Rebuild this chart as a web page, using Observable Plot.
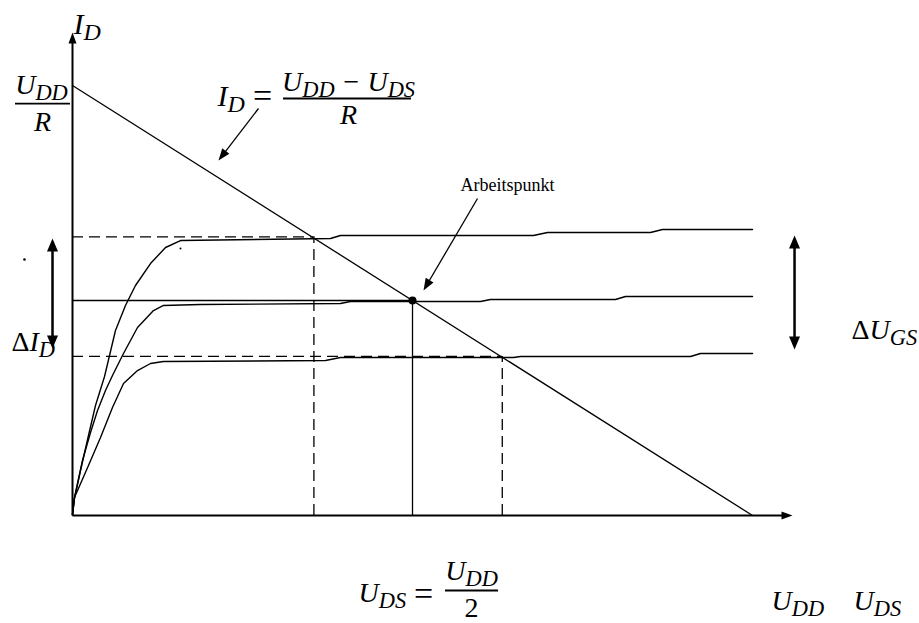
<!DOCTYPE html>
<html><head><meta charset="utf-8">
<script src="https://cdn.jsdelivr.net/npm/d3@7"></script>
<script src="https://cdn.jsdelivr.net/npm/@observablehq/plot@0.6"></script>
<style>html,body{margin:0;padding:0;background:#fff;} svg{display:block}</style>
</head><body><div id="chart"></div>
<script>
// ---- data (U_DS in units where U_DD = 10, I_D in units where U_DD/R = 10) ----
const curveTopU = [0, 0.029, 0.118, 0.235, 0.338, 0.471, 0.632, 0.779, 0.926, 1.147, 1.368, 1.588, 3.794, 3.941, 6.779, 6.985, 8.5, 8.676, 10];
const curveTopI = [0.02, 0.395, 1.047, 1.86, 2.558, 3.233, 4.302, 4.884, 5.349, 5.86, 6.233, 6.395, 6.442, 6.512, 6.512, 6.581, 6.581, 6.651, 6.651];
const curveMidU = [0, 0.029, 0.147, 0.265, 0.368, 0.485, 0.588, 0.75, 0.956, 1.191, 1.338, 1.882, 3.941, 4.088, 6.0, 6.147, 7.985, 8.132, 10];
const curveMidI = [0.02, 0.419, 1.279, 1.93, 2.442, 2.907, 3.256, 3.767, 4.372, 4.767, 4.884, 4.907, 4.93, 4.977, 4.977, 5.023, 5.023, 5.093, 5.093];
const curveLowU = [0, 0.029, 0.235, 0.412, 0.588, 0.75, 0.956, 1.147, 1.338, 3.721, 3.941, 6.485, 6.588, 9.088, 9.235, 10];
const curveLowI = [0.02, 0.419, 1.163, 1.814, 2.512, 3.07, 3.372, 3.535, 3.581, 3.605, 3.674, 3.674, 3.698, 3.698, 3.767, 3.767];
const loadU = [0, 10];
const loadI = [10, 0];
const workU = [5];
const workI = [5];
const dashHighU = [3.55], dashHighI = [6.48];
const dashLowU = [6.32], dashLowI = [3.70];
const axisMaxU = 10.588, axisMaxI = 11.233;

// ---- layout ----
const W = 919, H = 623, mL = 72, mR = 127, mT = 32, mB = 108;
const kx = (W - mL - mR) / axisMaxU, ky = (H - mT - mB) / axisMaxI;
const serif = "Liberation Serif, Times New Roman, serif";

const pts = (U, I) => U.map((u, i) => ({u, i: I[i]}));

function head(theta, L, Wd) {
  const c = Math.cos(theta), s = Math.sin(theta);
  return {draw(ctx) {
    const bx = -L * c, by = -L * s, px = -s * Wd / 2, py = c * Wd / 2;
    ctx.moveTo(0, 0); ctx.lineTo(bx + px, by + py); ctx.lineTo(bx - px, by - py); ctx.closePath();
  }};
}
function arrow(x1, y1, x2, y2, {L = 12, Wd = 9, sw = 1.3, both = false} = {}) {
  const dxp = (x2 - x1) * kx, dyp = -(y2 - y1) * ky;
  const th = Math.atan2(dyp, dxp);
  const len = Math.hypot(dxp, dyp), ux = dxp / len, uy = dyp / len;
  const cut = L * 0.6;
  const ex = x2 - ux * cut / kx, ey = y2 + uy * cut / ky;
  const sx = both ? x1 + ux * cut / kx : x1, sy = both ? y1 - uy * cut / ky : y1;
  const m = [
    Plot.link([0], {x1: [sx], y1: [sy], x2: [ex], y2: [ey], stroke: "black", strokeWidth: sw}),
    Plot.dot([0], {x: [x2], y: [y2], symbol: head(th, L, Wd), fill: "black", stroke: "none", r: 5})
  ];
  if (both) m.push(Plot.dot([0], {x: [x1], y: [y1], symbol: head(th + Math.PI, L, Wd), fill: "black", stroke: "none", r: 5}));
  return m;
}
function label(t, x, y, o = {}) {
  return Plot.text([t], {x: [x], y: [y], text: d => d, fontFamily: serif, fontStyle: "italic", fontSize: 28,
    lineAnchor: "bottom", textAnchor: "start", fill: "black", ...o});
}
function bar(x1, x2, y) {
  return Plot.ruleY([y], {x1: [x1], x2: [x2], y: [y], stroke: "black", strokeWidth: 1.8});
}
const line = (U, I) => Plot.line(pts(U, I), {x: "u", y: "i", stroke: "black", strokeWidth: 1.4});

const chart = Plot.plot({
  width: W, height: H, marginLeft: mL, marginRight: mR, marginTop: mT, marginBottom: mB,
  x: {domain: [0, axisMaxU], axis: null},
  y: {domain: [0, axisMaxI], axis: null},
  style: {background: "white", overflow: "visible"},
  marks: [
    line(curveTopU, curveTopI),
    line(curveMidU, curveMidI),
    line(curveLowU, curveLowI),
    Plot.line(pts(loadU, loadI), {x: "u", y: "i", stroke: "black", strokeWidth: 1.3}),
    // dashed guides
    Plot.ruleY(dashHighI, {x1: 0, x2: dashHighU, stroke: "black", strokeWidth: 1.3, strokeDasharray: "11,6"}),
    Plot.ruleX(dashHighU, {y1: 0, y2: dashHighI, stroke: "black", strokeWidth: 1.3, strokeDasharray: "11,6"}),
    Plot.ruleY(dashLowI, {x1: 0, x2: dashLowU, stroke: "black", strokeWidth: 1.3, strokeDasharray: "11,6"}),
    Plot.ruleX(dashLowU, {y1: 0, y2: dashLowI, stroke: "black", strokeWidth: 1.3, strokeDasharray: "11,6"}),
    // operating point guides
    Plot.ruleY(workI, {x1: 0, x2: workU, stroke: "black", strokeWidth: 1.3}),
    Plot.ruleX(workU, {y1: 0, y2: workI, stroke: "black", strokeWidth: 1.3}),
    // axes
    ...arrow(0, 0, 0, axisMaxI, {L: 11, Wd: 8, sw: 2}),
    ...arrow(0, 0, axisMaxU, 0, {L: 11, Wd: 8, sw: 2}),
    // annotation arrows
    ...arrow(2.735, 9.465, 2.147, 8.256, {L: 12, Wd: 9}),
    ...arrow(5.956, 7.372, 5.162, 5.233, {L: 12, Wd: 9}),
    ...arrow(-0.294, 3.884, -0.294, 6.442, {L: 13, Wd: 11, sw: 2.5, both: true}),
    ...arrow(10.618, 3.86, 10.618, 6.512, {L: 13, Wd: 11, sw: 2.5, both: true}),
    // operating point and stray dots
    Plot.dot(pts(workU, workI), {x: "u", y: "i", r: 4, fill: "black"}),
    Plot.dot([0], {x: [-0.706], y: [5.953], r: 1.3, fill: "black"}),
    Plot.dot([0], {x: [1.588], y: [6.209], r: 1, fill: "black"}),
    // labels
    label("I_{D}", 0.015, 11.209, {fontSize: 30}),
    label("U_{DD}", -0.456, 9.81, {textAnchor: "middle"}),
    bar(-0.838, -0.029, 9.581),
    label("R", -0.441, 8.953, {textAnchor: "middle"}),
    label("I_{D}", 2.132, 9.535, {fontSize: 30}),
    label("=", 2.794, 9.49, {textAnchor: "middle", fontStyle: "normal", fontSize: 34}),
    label("U_{DD} − U_{DS}", 4.059, 9.884, {textAnchor: "middle"}),
    bar(3.103, 4.985, 9.698),
    label("R", 4.059, 9.116, {textAnchor: "middle"}),
    label("Arbeitspunkt", 6.397, 7.558, {textAnchor: "middle", fontStyle: "normal", fontSize: 18}),
    label("ΔI_{D}", -0.897, 3.837),
    label("ΔU_{GS}", 11.456, 4.116),
    label("U_{DS}", 4.206, -2.023),
    label("=", 5.162, -2.07, {textAnchor: "middle", fontStyle: "normal", fontSize: 34}),
    label("U_{DD}", 5.868, -1.51, {textAnchor: "middle"}),
    bar(5.485, 6.265, -1.744),
    label("2", 5.868, -2.372, {textAnchor: "middle", fontStyle: "normal"}),
    label("U_{DD}", 10.279, -2.209),
    label("U_{DS}", 11.485, -2.209)
  ]
});

// subscripts and upright Delta
d3.select(chart).selectAll("text").each(function() {
  const s = this.textContent;
  if (!/_\{|Δ/.test(s)) return;
  const parts = s.split(/(_\{[^}]*\}|Δ)/).filter(p => p !== "");
  this.textContent = "";
  let shifted = false;
  for (const p of parts) {
    const ts = d3.select(this).append("tspan");
    if (p.startsWith("_{")) {
      ts.text(p.slice(2, -1)).attr("font-size", "0.8em").attr("dy", 6);
      shifted = true;
    } else {
      ts.text(p);
      if (shifted) { ts.attr("dy", -6); shifted = false; }
      if (p === "Δ") ts.attr("font-style", "normal");
    }
  }
});
document.getElementById("chart").appendChild(chart);
</script></body></html>
